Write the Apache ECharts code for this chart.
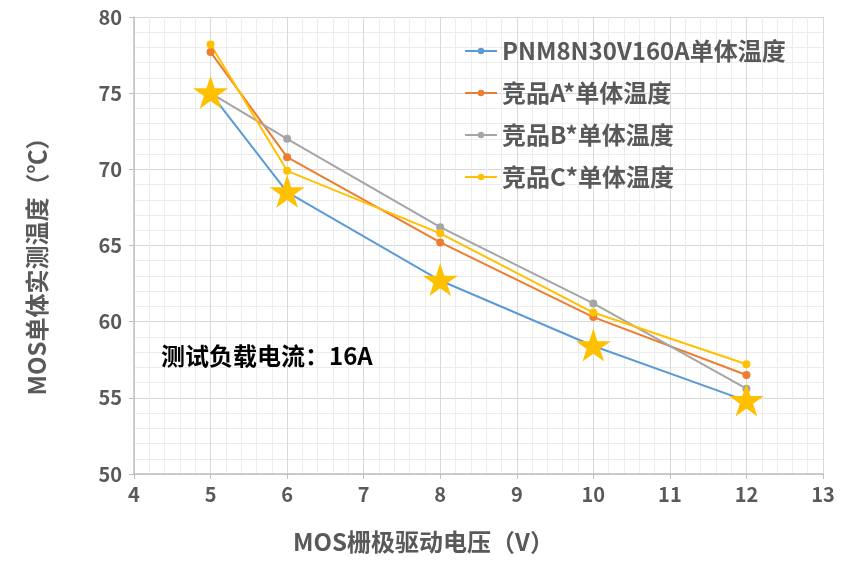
<!DOCTYPE html>
<html lang="zh">
<head>
    <meta charset="UTF-8">
    <title>MOS温度</title>
    <script src="https://cdn.jsdelivr.net/npm/echarts@6/dist/echarts.min.js"></script>
    <style>
        html, body { margin: 0; padding: 0; background: #fff; }
        #main { width: 847px; height: 574px; }
    </style>
</head>
<body>
    <div id="main"></div>
    <script>
        // 数据
        const voltage = [5, 6, 8, 10, 12]
        const pnm = [75.0, 68.5, 62.7, 58.4, 54.8]
        const compA = [77.7, 70.8, 65.2, 60.3, 56.5]
        const compB = [75.0, 72.0, 66.2, 61.2, 55.6]
        const compC = [78.2, 69.9, 65.8, 60.6, 57.2]
        const seriesNames = ['PNM8N30V160A单体温度', '竞品A*单体温度', '竞品B*单体温度', '竞品C*单体温度']
        const colors = ['#5B9BD5', '#ED7D31', '#A5A5A5', '#FFC000']

        const font = 'Noto Sans CJK SC'
        const starPath = 'path://M50 0 L61.23 34.55 L97.55 34.55 L68.17 55.9 L79.39 90.45 L50 69.1 L20.61 90.45 L31.83 55.9 L2.45 34.55 L38.77 34.55 Z'

        function pairs(ys) {
            return voltage.map((v, i) => [v, ys[i]])
        }

        function lineSeries(name, ys, color) {
            return {
                name: name,
                type: 'line',
                data: pairs(ys),
                symbol: 'circle',
                symbolSize: 8,
                lineStyle: { width: 2, color: color },
                itemStyle: { color: color }
            }
        }

        let chart = echarts.init(document.getElementById('main'))
        let option = {
            animation: false,
            color: colors,
            // 测试条件标注
            title: {
                text: '测试负载电流：16A',
                left: 156,
                top: 339,
                textStyle: { fontFamily: font, fontSize: 24, fontWeight: 'bold', color: '#000' }
            },
            grid: { left: 134, right: 24, top: 17, bottom: 100 },
            legend: {
                data: seriesNames,
                orient: 'vertical',
                left: 459,
                top: 34,
                itemGap: 18,
                itemWidth: 32,
                itemHeight: 8,
                textStyle: { fontFamily: font, fontSize: 24, fontWeight: 'bold', color: '#595959' }
            },
            xAxis: {
                type: 'value',
                min: 4,
                max: 13,
                interval: 1,
                name: 'MOS栅极驱动电压（V）',
                nameLocation: 'middle',
                nameGap: 56,
                nameTextStyle: {
                    fontFamily: font, fontSize: 24, fontWeight: 'bold', color: '#595959',
                    padding: [0, 110, 0, 0]
                },
                axisLine: { lineStyle: { color: '#BFBFBF', width: 1.5 } },
                axisTick: { show: true, length: 5, lineStyle: { color: '#BFBFBF' } },
                axisLabel: { fontFamily: font, fontSize: 20, fontWeight: 'bold', color: '#595959', margin: 10 },
                splitLine: { show: true, lineStyle: { color: '#D9D9D9' } },
                minorTick: { show: false, splitNumber: 5 },
                minorSplitLine: { show: true, lineStyle: { color: '#EDEDED' } }
            },
            yAxis: {
                type: 'value',
                min: 50,
                max: 80,
                interval: 5,
                name: 'MOS单体实测温度（℃）',
                nameLocation: 'middle',
                nameGap: 85,
                nameTextStyle: {
                    fontFamily: font, fontSize: 24, fontWeight: 'bold', color: '#595959',
                    padding: [0, 30, 0, 0]
                },
                axisLine: { show: true, lineStyle: { color: '#BFBFBF', width: 1.5 } },
                axisTick: { show: true, length: 5, lineStyle: { color: '#BFBFBF' } },
                axisLabel: { fontFamily: font, fontSize: 20, fontWeight: 'bold', color: '#595959', margin: 12 },
                splitLine: { show: true, lineStyle: { color: '#D9D9D9' } },
                minorTick: { show: false, splitNumber: 5 },
                minorSplitLine: { show: true, lineStyle: { color: '#EDEDED' } }
            },
            series: [
                lineSeries(seriesNames[0], pnm, colors[0]),
                lineSeries(seriesNames[1], compA, colors[1]),
                lineSeries(seriesNames[2], compB, colors[2]),
                lineSeries(seriesNames[3], compC, colors[3]),
                {
                    // 星标
                    name: 'star',
                    type: 'scatter',
                    data: pairs(pnm),
                    symbol: starPath,
                    symbolSize: [35, 33],
                    symbolOffset: [0, -1],
                    itemStyle: { color: '#FFC000', opacity: 1 },
                    z: 5
                }
            ]
        }
        chart.setOption(option)
    </script>
</body>
</html>
